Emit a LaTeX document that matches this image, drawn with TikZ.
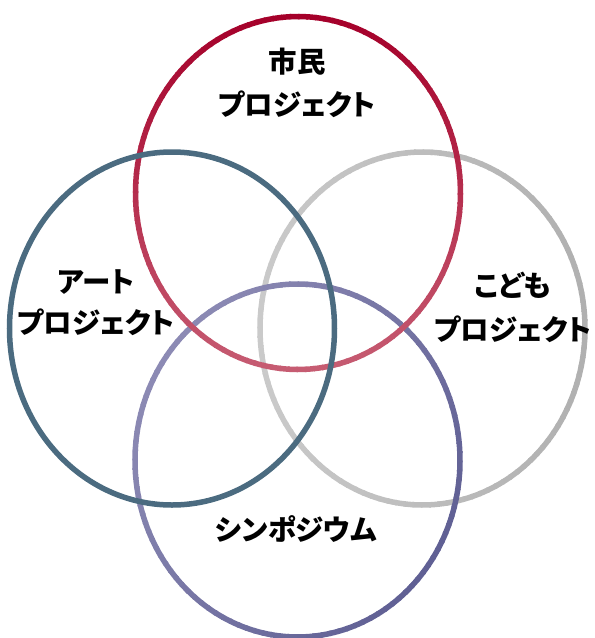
\documentclass[tikz,border=0pt]{standalone}
\usepackage{fontspec}
\newfontfamily\jpfont[RawFeature=+palt]{Noto Sans CJK JP}
\definecolor{redA}{HTML}{A5002A}
\definecolor{redB}{HTML}{C65C72}
\definecolor{tealC}{HTML}{4B6B80}
\definecolor{grayL}{HTML}{CACACA}
\definecolor{grayD}{HTML}{B0B0B0}
\definecolor{purL}{HTML}{8C8AB4}
\definecolor{purD}{HTML}{606094}
\tikzset{
  ring/.style={line width=5.5pt, line cap=butt},
  lbl/.style={font=\jpfont\bfseries\fontsize{28.5}{43}\selectfont, align=center, text=black, inner sep=0pt}
}
\begin{document}
\begin{tikzpicture}[x=1pt,y=-1pt]
\useasboundingbox (0,0) rectangle (595,638);
% gray (right)
\foreach \a in {0,3,...,357}{
  \pgfmathsetmacro\t{50*(1-cos(\a+1.5))}
  \draw[ring, draw=grayL!\t!grayD] ({422.5+162.5*cos(\a)},{328.5+176.5*sin(\a)}) arc[start angle=\a, end angle=\a+3.6, x radius=162.5, y radius=176.5];
}
% purple (bottom)
\foreach \a in {0,3,...,357}{
  \pgfmathsetmacro\t{50*(1-0.8*cos(\a+1.5)-0.6*sin(\a+1.5))}
  \draw[ring, draw=purL!\t!purD] ({297.5+162.5*cos(\a)},{460.5+176.5*sin(\a)}) arc[start angle=\a, end angle=\a+3.6, x radius=162.5, y radius=176.5];
}
% red (top)
\foreach \a in {0,3,...,357}{
  \pgfmathsetmacro\t{50*(1-sin(\a+1.5))}
  \draw[ring, draw=redA!\t!redB] ({298+162.5*cos(\a)},{193+176.5*sin(\a)}) arc[start angle=\a, end angle=\a+3.6, x radius=162.5, y radius=176.5];
}
% teal (left)
\draw[ring, draw=tealC] (172,328.5) ellipse [x radius=162.5, y radius=176.5];
% labels
\node[lbl] (shimin) at (297,83) {市民\\プロジェクト};
\node[lbl, font=\jpfont\bfseries\fontsize{28.5}{41}\selectfont] (art) at (96,303) {アート\\プロジェクト};
\node[lbl, font=\jpfont\bfseries\fontsize{28.5}{44}\selectfont] (kodomo) at (513,307) {こども\\プロジェクト};
\node[lbl] (sympo) at (296,529) {シンポジウム};
\end{tikzpicture}
\end{document}
